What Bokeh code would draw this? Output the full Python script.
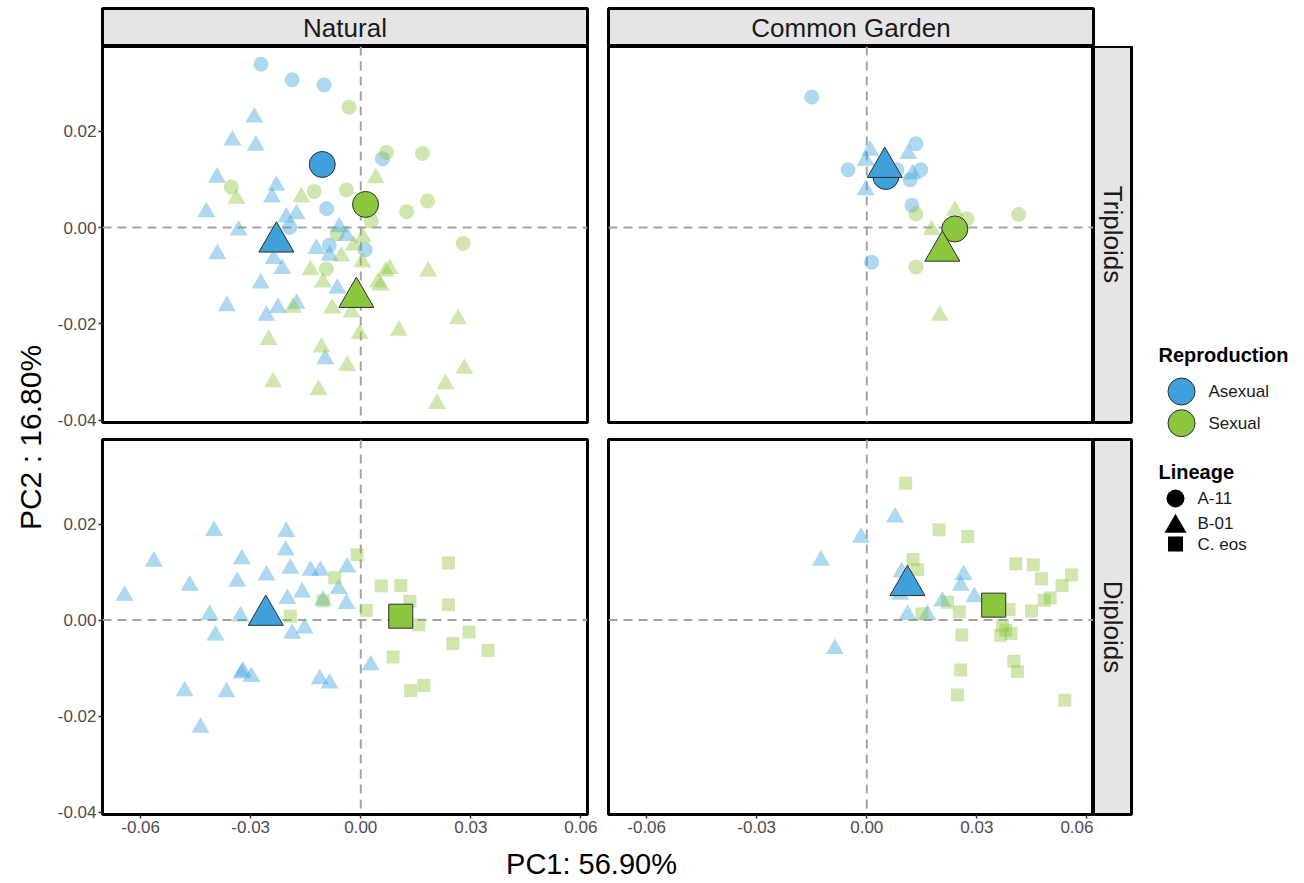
import math
from bokeh.plotting import figure
from bokeh.layouts import row, column
from bokeh.models import Span, Range1d, FixedTicker, PrintfTickFormatter
from bokeh.core.properties import value
from bokeh.embed import file_html
from bokeh.resources import INLINE

FONT = "Liberation Sans"
BLUE = "#3FA0DC"
GREEN = "#8CC63F"
LIGHT_ALPHA = 0.42

# ---------------- axis ticks ----------------
x_ticks = [-0.06, -0.03, 0.0, 0.03, 0.06]
y_ticks = [-0.04, -0.02, 0.0, 0.02]
x_lim = (-0.0704, 0.0618)
y_lim = (-0.0405, 0.0376)

# ---------------- facet labels ----------------
col_labels = ["Natural", "Common Garden"]
row_labels = ["Triploids", "Diploids"]

# ---------------- Natural / Triploids ----------------
nt_asex_a11_x = [-0.0272, -0.0187, -0.0100, 0.0059, -0.0093, -0.0194, -0.0086, 0.0012]
nt_asex_a11_y = [0.0339, 0.0307, 0.0296, 0.0143, 0.0039, 0.0000, -0.0037, -0.0046]
nt_asex_b01_x = [-0.0290, -0.0350, -0.0286, -0.0392, -0.0230, -0.0242, -0.0421, -0.0333, -0.0203, -0.0175,
                 -0.0391, -0.0059, -0.0039, -0.0121, -0.0085, -0.0237, -0.0214, -0.0273, -0.0064, -0.0365,
                 -0.0257, -0.0226, -0.0175, -0.0097]
nt_asex_b01_y = [0.0229, 0.0181, 0.0170, 0.0104, 0.0087, 0.0063, 0.0032, -0.0006, 0.0021, 0.0028,
                 -0.0055, 0.0001, -0.0017, -0.0044, -0.0058, -0.0065, -0.0086, -0.0116, -0.0127, -0.0163,
                 -0.0183, -0.0167, -0.0158, -0.0273]
nt_sex_a11_x = [-0.0032, 0.0070, 0.0168, -0.0353, -0.0127, -0.0039, 0.0182, 0.0125, 0.0029, 0.0279, -0.0065, -0.0094]
nt_sex_a11_y = [0.0250, 0.0156, 0.0154, 0.0084, 0.0075, 0.0078, 0.0055, 0.0033, 0.0013, -0.0033, -0.0013, -0.0086]
nt_sex_b01_x = [0.0041, -0.0339, -0.0162, 0.0006, -0.0019, -0.0053, 0.0004, -0.0137, 0.0079, 0.0068,
                0.0184, -0.0103, 0.0047, 0.0054, -0.0185, -0.0078, -0.0025, 0.0265, 0.0104, -0.0003,
                -0.0251, -0.0107, -0.0037, 0.0282, 0.0231, -0.0239, -0.0115, 0.0208]
nt_sex_b01_y = [0.0103, 0.0060, 0.0063, -0.0021, -0.0037, -0.0060, -0.0072, -0.0088, -0.0086, -0.0091,
                -0.0091, -0.0114, -0.0114, -0.0120, -0.0166, -0.0168, -0.0176, -0.0190, -0.0214, -0.0221,
                -0.0233, -0.0249, -0.0287, -0.0293, -0.0325, -0.0321, -0.0337, -0.0366]
nt_mean_asex_a11 = (-0.0105, 0.0131)
nt_mean_sex_a11 = (0.0013, 0.0048)
nt_mean_asex_b01 = (-0.0230, -0.0030)
nt_mean_sex_b01 = (-0.0012, -0.0145)

# ---------------- Common Garden / Triploids ----------------
ct_asex_a11_x = [-0.0150, 0.0134, -0.0051, 0.0147, 0.0082, 0.0118, 0.0123, 0.0013]
ct_asex_a11_y = [0.0271, 0.0174, 0.0120, 0.0120, 0.0120, 0.0099, 0.0046, -0.0072]
ct_asex_b01_x = [0.0009, -0.0003, 0.0113, 0.0125, -0.0003]
ct_asex_b01_y = [0.0160, 0.0139, 0.0153, 0.0111, 0.0078]
ct_sex_a11_x = [0.0134, 0.0273, 0.0414, 0.0134]
ct_sex_a11_y = [0.0028, 0.0018, 0.0027, -0.0082]
ct_sex_b01_x = [0.0240, 0.0177, 0.0199]
ct_sex_b01_y = [0.0035, -0.0005, -0.0183]
ct_mean_asex_a11 = (0.0052, 0.0106)
ct_mean_sex_a11 = (0.0240, -0.0003)
ct_mean_asex_b01 = (0.0049, 0.0125)
ct_mean_sex_b01 = (0.0206, -0.0049)

# ---------------- Natural / Diploids ----------------
nd_asex_b01_x = [-0.0644, -0.0564, -0.0466, -0.0400, -0.0324, -0.0337, -0.0412, -0.0328, -0.0396, -0.0257,
                 -0.0203, -0.0205, -0.0192, -0.0200, -0.0160, -0.0137, -0.0110, -0.0037, -0.0060, -0.0039,
                 -0.0103, -0.0187, -0.0153, -0.0321, -0.0298, -0.0325, -0.0112, -0.0085, 0.0027, -0.0480,
                 -0.0366, -0.0437]
nd_asex_b01_y = [0.0051, 0.0122, 0.0072, 0.0186, 0.0127, 0.0080, 0.0011, 0.0008, -0.0032, 0.0093,
                 0.0184, 0.0145, 0.0107, 0.0044, 0.0058, 0.0103, 0.0103, 0.0110, 0.0065, 0.0034,
                 0.0041, -0.0028, -0.0017, -0.0107, -0.0118, -0.0111, -0.0123, -0.0132, -0.0094, -0.0148,
                 -0.0150, -0.0224]
nd_sex_ceos_x = [-0.0010, -0.0071, 0.0056, 0.0109, 0.0134, 0.0015, -0.0192, 0.0158, 0.0239, 0.0239,
                 0.0295, 0.0251, 0.0347, 0.0088, 0.0136, 0.0172, -0.0103]
nd_sex_ceos_y = [0.0136, 0.0088, 0.0071, 0.0072, 0.0039, 0.0020, 0.0008, -0.0010, 0.0119, 0.0032,
                 -0.0025, -0.0049, -0.0063, -0.0077, -0.0147, -0.0136, 0.0040]
nd_mean_asex_b01 = (-0.0259, 0.0010)
nd_mean_sex_ceos = (0.0109, 0.0008)

# ---------------- Common Garden / Diploids ----------------
cd_asex_b01_x = [0.0077, -0.0016, -0.0125, 0.0095, 0.0091, 0.0264, 0.0256, 0.0293, 0.0206, 0.0111, 0.0165, -0.0087]
cd_asex_b01_y = [0.0214, 0.0172, 0.0124, 0.0100, 0.0053, 0.0094, 0.0072, 0.0048, 0.0039, 0.0011, 0.0011, -0.0060]
cd_sex_ceos_x = [0.0106, 0.0197, 0.0275, 0.0126, 0.0138, 0.0406, 0.0454, 0.0476, 0.0558, 0.0532,
                 0.0500, 0.0484, 0.0449, 0.0388, 0.0220, 0.0252, 0.0150, 0.0370, 0.0379, 0.0393,
                 0.0365, 0.0259, 0.0401, 0.0411, 0.0256, 0.0247, 0.0540]
cd_sex_ceos_y = [0.0285, 0.0188, 0.0174, 0.0126, 0.0105, 0.0117, 0.0115, 0.0086, 0.0094, 0.0072,
                 0.0046, 0.0041, 0.0019, 0.0022, 0.0037, 0.0017, 0.0013, -0.0012, -0.0021, -0.0028,
                 -0.0032, -0.0031, -0.0086, -0.0107, -0.0104, -0.0156, -0.0167]
cd_mean_asex_b01 = (0.0111, 0.0072)
cd_mean_sex_ceos = (0.0346, 0.0031)

SMALL = {"circle": 15, "triangle": 18, "square": 13}
BIG = {"circle": 26, "triangle": 35, "square": 24}

FRAME_W = 485


def style_axis(ax, ticks):
    ax.ticker = FixedTicker(ticks=ticks)
    ax.formatter = PrintfTickFormatter(format="%.2f")
    ax.axis_line_color = None
    ax.major_tick_in = 0
    ax.major_tick_out = 4
    ax.minor_tick_in = 0
    ax.minor_tick_out = 0
    ax.major_tick_line_color = "#333333"
    ax.major_tick_line_width = 1.5
    ax.major_label_text_font = FONT
    ax.major_label_text_font_size = "17px"
    ax.major_label_text_color = "#4D4D4D"
    ax.major_label_standoff = 2


def panel(fh, mbl, mbr, mbt, mbb, show_x, show_y, light, means):
    p = figure(frame_width=FRAME_W, frame_height=fh,
               x_range=Range1d(*x_lim), y_range=Range1d(*y_lim),
               x_axis_location="below" if show_x else None,
               y_axis_location="left" if show_y else None,
               min_border_left=mbl, min_border_right=mbr,
               min_border_top=mbt, min_border_bottom=mbb,
               output_backend="svg", toolbar_location=None)
    p.background_fill_color = "white"
    p.border_fill_color = "white"
    p.outline_line_color = "black"
    p.outline_line_width = 3
    p.xgrid.grid_line_color = None
    p.ygrid.grid_line_color = None
    if show_x:
        style_axis(p.xaxis[0], x_ticks)
    if show_y:
        style_axis(p.yaxis[0], y_ticks)
    for loc, dim in ((0.0, "height"), (0.0, "width")):
        p.add_layout(Span(location=loc, dimension=dim, line_color="#A3A3A3",
                          line_dash="9 6", line_width=2, level="underlay"))
    for xs, ys, marker, color in light:
        p.scatter(xs, ys, marker=marker, size=SMALL[marker], fill_color=color,
                  fill_alpha=LIGHT_ALPHA, line_color=None)
    for (mx, my), marker, color in means:
        p.scatter([mx], [my], marker=marker, size=BIG[marker], fill_color=color,
                  line_color="#2E2E2E", line_width=1)
    return p


def pixel_fig(w, h, mbl=0, mbr=0, mbt=0, mbb=0):
    f = figure(frame_width=w, frame_height=h, x_range=Range1d(0, w), y_range=Range1d(h, 0),
               x_axis_location=None, y_axis_location=None,
               min_border_left=mbl, min_border_right=mbr, min_border_top=mbt, min_border_bottom=mbb,
               output_backend="svg", toolbar_location=None)
    f.outline_line_color = None
    f.xgrid.grid_line_color = None
    f.ygrid.grid_line_color = None
    f.background_fill_color = "white"
    f.border_fill_color = "white"
    return f


def strip(w, h, label, angle, mbl=0, mbr=0, mbt=0, mbb=0):
    s = figure(frame_width=w, frame_height=h, x_range=Range1d(0, 1), y_range=Range1d(0, 1),
               x_axis_location=None, y_axis_location=None,
               min_border_left=mbl, min_border_right=mbr, min_border_top=mbt, min_border_bottom=mbb,
               output_backend="svg", toolbar_location=None)
    s.background_fill_color = "#E5E5E5"
    s.border_fill_color = "white"
    s.outline_line_color = "black"
    s.outline_line_width = 3
    s.xgrid.grid_line_color = None
    s.ygrid.grid_line_color = None
    s.text(x=[0.5], y=[0.5], text=[label], angle=angle, text_align="center", text_baseline="middle",
           text_font=value(FONT), text_font_size="26px", text_color="#1A1A1A")
    return s


# Panels
p_nt = panel(376, 48, 10, 0, 8, False, True,
             [(nt_asex_a11_x, nt_asex_a11_y, "circle", BLUE),
              (nt_sex_a11_x, nt_sex_a11_y, "circle", GREEN),
              (nt_asex_b01_x, nt_asex_b01_y, "triangle", BLUE),
              (nt_sex_b01_x, nt_sex_b01_y, "triangle", GREEN)],
             [(nt_mean_asex_a11, "circle", BLUE), (nt_mean_sex_a11, "circle", GREEN),
              (nt_mean_asex_b01, "triangle", BLUE), (nt_mean_sex_b01, "triangle", GREEN)])
p_ct = panel(376, 11, 0, 0, 8, False, False,
             [(ct_asex_a11_x, ct_asex_a11_y, "circle", BLUE),
              (ct_sex_a11_x, ct_sex_a11_y, "circle", GREEN),
              (ct_asex_b01_x, ct_asex_b01_y, "triangle", BLUE),
              (ct_sex_b01_x, ct_sex_b01_y, "triangle", GREEN)],
             [(ct_mean_asex_a11, "circle", BLUE), (ct_mean_sex_a11, "circle", GREEN),
              (ct_mean_asex_b01, "triangle", BLUE), (ct_mean_sex_b01, "triangle", GREEN)])
p_nd = panel(375, 48, 10, 9, 26, True, True,
             [(nd_asex_b01_x, nd_asex_b01_y, "triangle", BLUE),
              (nd_sex_ceos_x, nd_sex_ceos_y, "square", GREEN)],
             [(nd_mean_asex_b01, "triangle", BLUE), (nd_mean_sex_ceos, "square", GREEN)])
p_cd = panel(375, 11, 0, 9, 26, True, False,
             [(cd_asex_b01_x, cd_asex_b01_y, "triangle", BLUE),
              (cd_sex_ceos_x, cd_sex_ceos_y, "square", GREEN)],
             [(cd_mean_asex_b01, "triangle", BLUE), (cd_mean_sex_ceos, "square", GREEN)])

# Strips
s_nat = strip(FRAME_W, 38, col_labels[0], 0, mbl=48, mbr=10, mbt=8, mbb=0)
s_cg = strip(FRAME_W, 38, col_labels[1], 0, mbl=11, mbr=2, mbt=8, mbb=0)
s_tri = strip(38, 376, row_labels[0], -math.pi / 2, mbl=0, mbr=2, mbt=0, mbb=8)
s_dip = strip(38, 375, row_labels[1], -math.pi / 2, mbl=0, mbr=2, mbt=9, mbb=26)

# Axis titles
TOTAL_H = 880
ytitle = pixel_fig(54, TOTAL_H)
ytitle.text(x=[30], y=[437], text=["PC2 : 16.80%"], angle=math.pi / 2, text_align="center",
            text_baseline="middle", text_font=value(FONT), text_font_size="30px", text_color="black")

xtitle = pixel_fig(1075, 41)
xtitle.text(x=[537], y=[23], text=["PC1: 56.90%"], text_align="center", text_baseline="middle",
            text_font=value(FONT), text_font_size="29px", text_color="black")

# Legend
leg = pixel_fig(163, TOTAL_H)
leg.text(x=[25], y=[354], text=["Reproduction"], text_align="left", text_baseline="middle",
         text_font=value(FONT), text_font_size="20px", text_font_style="bold", text_color="black")
leg.scatter([48, 48], [391, 422.7], marker="circle", size=27, fill_color=[BLUE, GREEN],
            line_color="#2E2E2E", line_width=1)
leg.text(x=[75, 75], y=[391, 422.7], text=["Asexual", "Sexual"], text_align="left", text_baseline="middle",
         text_font=value(FONT), text_font_size="17px", text_color="#1A1A1A")
leg.text(x=[25], y=[471.7], text=["Lineage"], text_align="left", text_baseline="middle",
         text_font=value(FONT), text_font_size="20px", text_font_style="bold", text_color="black")
leg.scatter([42], [498], marker="circle", size=18, fill_color="black", line_color=None)
leg.scatter([42], [526], marker="triangle", size=22, fill_color="black", line_color=None)
leg.scatter([42], [543.5], marker="square", size=15, fill_color="black", line_color=None)
leg.text(x=[64, 64, 64], y=[498, 522.7, 543.5], text=["A-11", "B-01", "C. eos"], text_align="left",
         text_baseline="middle", text_font=value(FONT), text_font_size="17px", text_color="#1A1A1A")

main = column(
    row(s_nat, s_cg),
    row(p_nt, p_ct, s_tri),
    row(p_nd, p_cd, s_dip),
    xtitle,
)
layout = row(ytitle, main, leg)

open("out.html", "w").write(file_html(layout, INLINE))
